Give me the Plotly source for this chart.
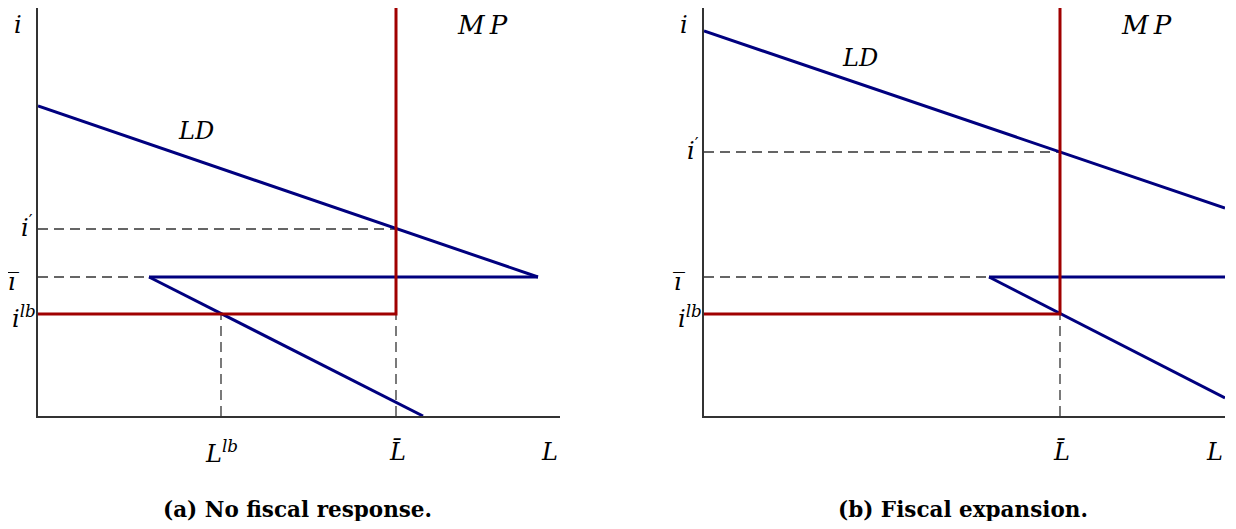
import plotly.graph_objects as go

# ---- data (conceptual units) ----
# Panel (a): No fiscal response
a_ld_upper_L = [0.0, 50.0]
a_ld_upper_i = [31.0, 13.9]
a_ld_flat_L = [11.1, 50.0]
a_ld_flat_i = [13.9, 13.9]
a_ld_lower_L = [11.1, 38.5]
a_ld_lower_i = [13.9, 0.0]
a_Lbar = 35.8
a_ilb = 10.2
a_iprime = 18.7
a_ibar = 13.9
a_Llb = 18.3
a_xmax, a_ymax = 52.2, 40.8

# Panel (b): Fiscal expansion
b_ld_upper_L = [0.0, 52.1]
b_ld_upper_i = [38.5, 20.8]
b_ld_flat_L = [28.5, 52.1]
b_ld_flat_i = [13.9, 13.9]
b_ld_lower_L = [28.5, 52.1]
b_ld_lower_i = [13.9, 1.8]
b_Lbar = 35.6
b_ilb = 10.2
b_iprime = 26.4
b_ibar = 13.9
b_xmax, b_ymax = 52.1, 40.8

captions = ["(a) No fiscal response.", "(b) Fiscal expansion."]

NAVY = "#00007f"
RED = "#a00000"
DASH = "#333333"
AX = "#333333"
MATH = "DejaVu Serif, serif"
SERIF = "DejaVu Serif, serif"

fig = go.Figure()

def line(x, y, color, width, xa, ya, dash=None):
    fig.add_trace(go.Scatter(x=x, y=y, mode="lines", xaxis=xa, yaxis=ya,
                             line=dict(color=color, width=width, dash=dash),
                             hoverinfo="skip", showlegend=False, cliponaxis=False))

DS = "10px,6px"
DW = 1.3
# Panel a
line([0, a_Lbar], [a_iprime, a_iprime], DASH, DW, "x", "y", DS)
line([0, a_ld_flat_L[0]], [a_ibar, a_ibar], DASH, DW, "x", "y", DS)
line([a_Llb, a_Llb], [0, a_ilb], DASH, DW, "x", "y", DS)
line([a_Lbar, a_Lbar], [0, a_ilb], DASH, DW, "x", "y", DS)
line(a_ld_upper_L, a_ld_upper_i, NAVY, 3, "x", "y")
line(a_ld_flat_L, a_ld_flat_i, NAVY, 3, "x", "y")
line(a_ld_lower_L, a_ld_lower_i, NAVY, 3, "x", "y")
line([0, a_Lbar, a_Lbar], [a_ilb, a_ilb, a_ymax], RED, 3, "x", "y")

# Panel b
line([0, b_Lbar], [b_iprime, b_iprime], DASH, DW, "x2", "y2", DS)
line([0, b_ld_flat_L[0]], [b_ibar, b_ibar], DASH, DW, "x2", "y2", DS)
line([b_Lbar, b_Lbar], [0, b_ilb], DASH, DW, "x2", "y2", DS)
line(b_ld_upper_L, b_ld_upper_i, NAVY, 3, "x2", "y2")
line(b_ld_flat_L, b_ld_flat_i, NAVY, 3, "x2", "y2")
line(b_ld_lower_L, b_ld_lower_i, NAVY, 3, "x2", "y2")
line([0, b_Lbar, b_Lbar], [b_ilb, b_ilb, b_ymax], RED, 3, "x2", "y2")

# page has an 8px body margin; figure pixel = page pixel - 8
OFF = 8
W, H = 1236 - 2 * OFF, 529 - 2 * OFF
def xdom(l, r):
    return [max(0, (l - OFF) / W), min(1, (r - OFF) / W)]
def ydom(t, b):
    return [max(0, (H - (b - OFF)) / H), min(1, (H - (t - OFF)) / H)]

axcommon = dict(showgrid=False, zeroline=False, showticklabels=False, ticks="",
                showline=True, linecolor=AX, linewidth=2, fixedrange=True)

fig.update_layout(
    width=W, height=H, margin=dict(l=0, r=0, t=0, b=0),
    plot_bgcolor="white", paper_bgcolor="white",
    xaxis=dict(domain=xdom(38, 560), range=[0, a_xmax], anchor="y", **axcommon),
    yaxis=dict(domain=ydom(8, 416), range=[0, a_ymax], anchor="x", **axcommon),
    xaxis2=dict(domain=xdom(704, 1225), range=[0, b_xmax], anchor="y2", **axcommon),
    yaxis2=dict(domain=ydom(8, 416), range=[0, b_ymax], anchor="x2", **axcommon),
)

F = dict(family=MATH, size=24, color="black")

def ann(text, x, y, xr, yr, xanchor="center", yanchor="middle", xshift=0, yshift=0, font=F):
    fig.add_annotation(text=text, x=x, y=y, xref=xr, yref=yr, showarrow=False,
                       xanchor=xanchor, yanchor=yanchor, xshift=xshift, yshift=yshift, font=font)

IBAR = "<i>i\u0305</i>"
for (xr, yr, iprime, ibar, ilb, Lbar, xmax, ymax, ldpos, mppos, Llb) in [
    ("x", "y", a_iprime, a_ibar, a_ilb, a_Lbar, a_xmax, a_ymax, (15.8, 28.5), (44.4, 39.1), a_Llb),
    ("x2", "y2", b_iprime, b_ibar, b_ilb, b_Lbar, b_xmax, b_ymax, (15.6, 35.8), (44.2, 39.1), None),
]:
    ann("<i>i</i>", 0, 39.1, xr, yr, xanchor="right", xshift=-14)
    ann("<i>i</i><sup>\u2032</sup>", 0, iprime, xr, yr, xanchor="right", xshift=-3, yshift=3)
    ann(IBAR, 0, ibar, xr, yr, xanchor="right", xshift=-17, yshift=-5)
    ann("<i>i</i><sup><i>lb</i></sup>", 0, ilb, xr, yr, xanchor="right", xshift=0, yshift=-3)
    ann("<i>LD</i>", ldpos[0], ldpos[1], xr, yr)
    ann("<i>M\u2009P</i>", mppos[0], mppos[1], xr, yr, font=dict(family=MATH, size=26, color="black"))
    ann("<i>L\u0304</i>", Lbar, 0, xr, yr, yanchor="top", yshift=-20, xshift=1)
    ann("<i>L</i>", xmax - 1.1, 0, xr, yr, yanchor="top", yshift=-20)
    if Llb is not None:
        ann("<i>L</i><sup><i>lb</i></sup>", Llb, 0, xr, yr, yanchor="top", yshift=-18)

CF = dict(family=SERIF, size=21.5, color="black")
ann("<b>" + captions[0] + "</b>", (297 - OFF) / W, 0, "paper", "paper", yanchor="bottom", yshift=-3, font=CF)
ann("<b>" + captions[1] + "</b>", (963 - OFF) / W, 0, "paper", "paper", yanchor="bottom", yshift=-3, font=CF)

fig.write_html("out.html")
